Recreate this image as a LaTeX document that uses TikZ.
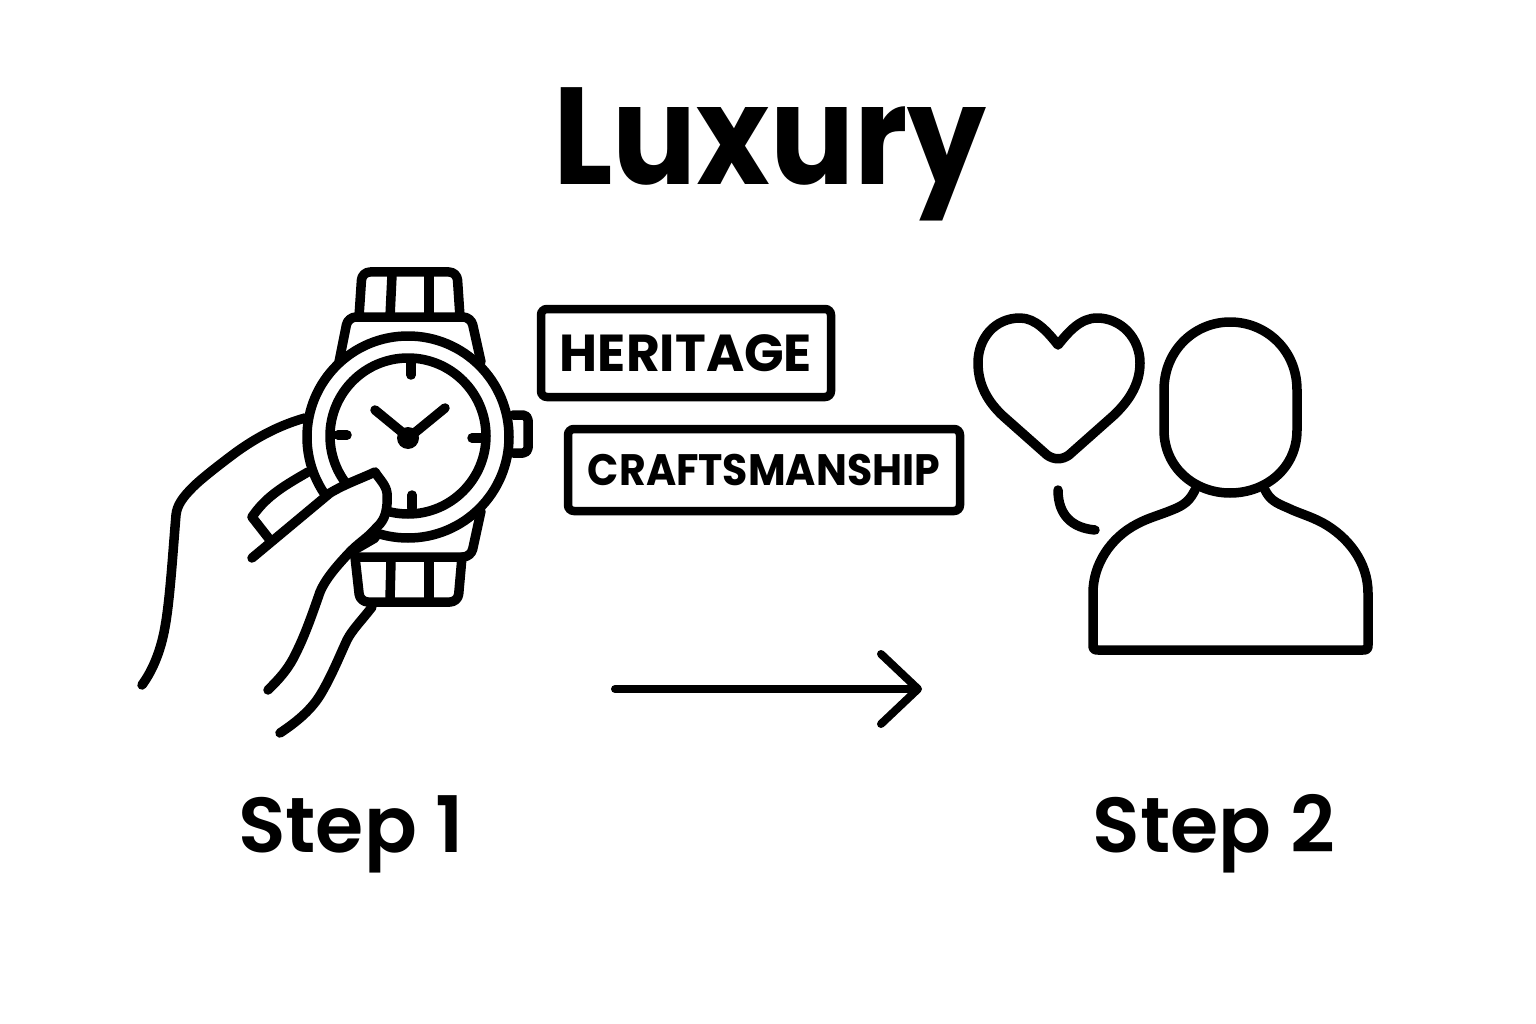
\documentclass[tikz,border=0pt]{standalone}
\usepackage{fontspec}
\setmainfont{Poppins}
\newfontfamily\semifont{Poppins SemiBold}
\usetikzlibrary{positioning,
	arrows.meta}
\tikzstyle{ink}=[draw=black, line width=9.5pt, line cap=round, line join=round]
\tikzstyle{thin ink}=[ink, line width=8pt]
\tikzstyle{tagbox}=[draw=black, line width=8.5pt, rounded corners=6pt, inner sep=0]
\tikzstyle{steptext}=[anchor=base, inner sep=0, font=\fontsize{78}{78}\selectfont\semifont]

\begin{document}
\begin{tikzpicture}[x=1pt,y=-1pt]
	\useasboundingbox (0,0) rectangle (1536,1024);
	\fill[white] (0,0) rectangle (1536,1024);
	\node[anchor=base, inner sep=0, font=\fontsize{138}{138}\selectfont\bfseries] (title) at (770,185) {\scalebox{0.905}[1]{Luxury}};

	% watch
	\draw[ink, rounded corners=8pt] (359,317) -- (362,272) -- (457,272) -- (460,317);
	\draw[ink] (392,275) -- (390,317);
	\draw[ink] (429,275) -- (429,317);
	\draw[ink, rounded corners=8pt] (339,362) -- (348,317) -- (471,317) -- (481,362);
	\draw[ink, rounded corners=8pt] (355,557) -- (360,602) -- (458,602) -- (462,557);
	\draw[ink] (391,560) -- (390,600);
	\draw[ink] (429,560) -- (429,600);
	\draw[ink, rounded corners=8pt] (481,511) -- (471,557) -- (358,557);
	\draw[ink, rounded corners=5pt] (513,415) -- (528,415) -- (528,453) -- (513,453);
	\draw[ink, fill=white] (408,437) circle (101);
	\draw[ink] (408,436) circle (78);
	\draw[ink] (411,363) -- (411,375);
	\draw[ink] (412,495) -- (412,508);
	\draw[ink] (338,435) -- (347,435);
	\draw[ink] (472,438) -- (482,438);
	\draw[ink] (375,410) -- (403,433);
	\draw[ink] (445,408) -- (412,435);
	\fill (408,438) circle (11);

	% hand
	\draw[ink] (305,418) .. controls (280,425) and (257,437) .. (235,453) .. controls (215,468) and (200,480) .. (193,487) .. controls (183,497) and (177,505) .. (176,515) .. controls (173,550) and (170,600) .. (165,627) .. controls (161,650) and (153,670) .. (142,685);
	\draw[ink] (308,472) .. controls (280,488) and (265,498) .. (252,517) -- (270,540);
	\fill[white] (252,558) -- (330,493) -- (375,472) -- (387,493) -- (387,510) -- (377,527) -- (350,550) -- cycle;
	\draw[ink] (252,558) -- (330,493) .. controls (345,484) and (360,479) .. (375,472) .. controls (380,480) and (386,485) .. (387,493) .. controls (388,510) and (385,520) .. (377,527) .. controls (368,538) and (358,543) .. (348,554) .. controls (335,568) and (325,580) .. (320,592) .. controls (312,615) and (305,635) .. (296,653) .. controls (288,670) and (278,680) .. (268,690);
	\draw[ink] (375,538) -- (356,549);
	\draw[ink] (372,607) .. controls (362,620) and (352,630) .. (347,640) .. controls (340,655) and (332,675) .. (322,692) .. controls (312,710) and (295,723) .. (280,733);

	% arrow
	\coordinate (arrowstart) at (615,689);
	\coordinate (arrowend) at (922,689);
	\draw[thin ink, -{Straight Barb[length=37pt,width=70pt,round]}] (arrowstart) -- (arrowend);

	% tags
	\node[tagbox, minimum width=290pt, minimum height=88pt, font=\fontsize{52}{52}\selectfont\bfseries] (heritage) at (686,353) {HERITAGE};
	\node[tagbox, minimum width=392pt, minimum height=82pt, font=\fontsize{44}{44}\selectfont\bfseries] (craftsmanship) at (764,470) {\scalebox{0.933}[1]{CRAFTSMANSHIP}};

	% person and heart
	\draw[ink] (1058,345) .. controls (1047,331) and (1035,318) .. (1020,318) .. controls (995,318) and (978,338) .. (978,363) .. controls (978,385) and (988,402) .. (1003,416) -- (1047,455) .. controls (1054,460) and (1062,460) .. (1069,455) -- (1113,416) .. controls (1128,402) and (1140,385) .. (1140,363) .. controls (1140,338) and (1121,318) .. (1097,318) .. controls (1081,318) and (1069,331) .. cycle;
	\draw[ink] (1058,490) .. controls (1058,515) and (1072,528) .. (1095,530);
	\draw[ink] (1164,390) .. controls (1164,350) and (1195,322) .. (1230,322) .. controls (1266,322) and (1297,350) .. (1297,390) -- (1297,430) .. controls (1297,468) and (1266,493) .. (1230,493) .. controls (1195,493) and (1164,468) .. (1164,430) -- cycle;
	\draw[ink] (1195,490) .. controls (1190,500) and (1185,505) .. (1172,510) .. controls (1160,515) and (1148,518) .. (1137,524) .. controls (1110,538) and (1093,565) .. (1093,593) -- (1093,645) .. controls (1093,649) and (1094,650) .. (1098,650) -- (1363,650) .. controls (1367,650) and (1368,649) .. (1368,645) -- (1368,593) .. controls (1368,562) and (1348,537) .. (1323,523) .. controls (1310,516) and (1298,513) .. (1288,508) .. controls (1276,503) and (1270,500) .. (1265,490);

	% step labels
	\node[steptext] (stepone) at (351,852) {Step 1};
	\node[steptext] (steptwo) at (1214,852) {Step 2};
\end{tikzpicture}
\end{document}
